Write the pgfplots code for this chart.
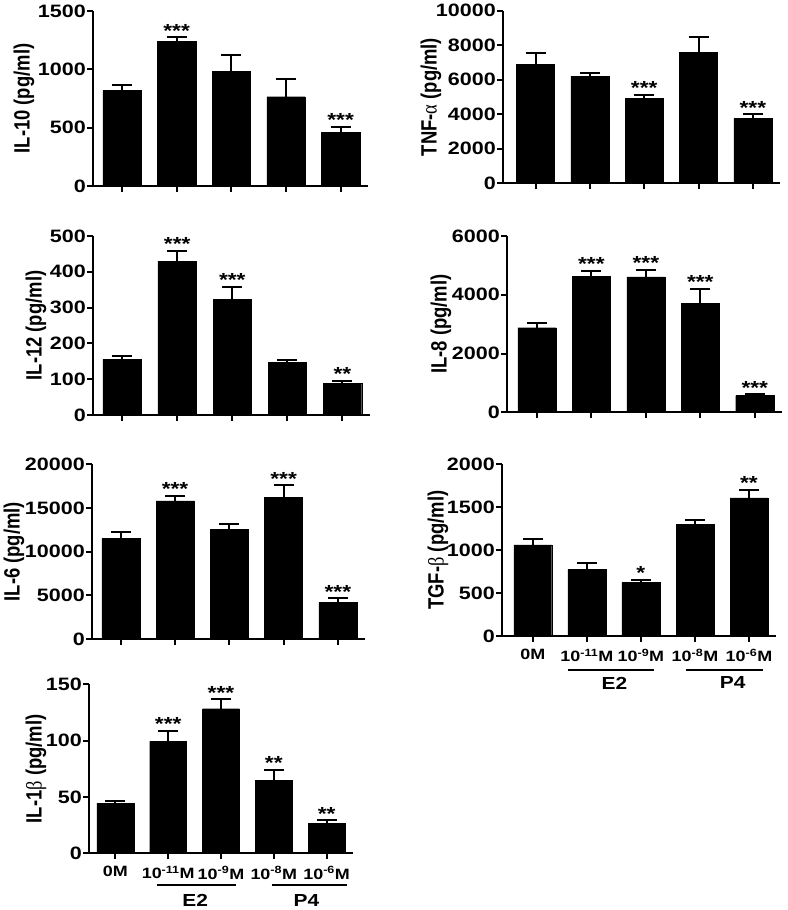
\documentclass[border=0pt]{standalone}
\usepackage{fontspec}
\setmainfont{Liberation Sans}
\newfontfamily\wide[FakeStretch=1.2]{Liberation Sans}
\newfontfamily\greek{Liberation Serif}
\usepackage{pgfplots}
\pgfplotsset{compat=1.18}
\newcommand\tickfont{\wide\bfseries\fontsize{18}{18}\selectfont}
\newcommand\xtfont{\wide\bfseries\fontsize{15}{16}\selectfont}
\newcommand\grpfont{\wide\bfseries\fontsize{17.5}{18}\selectfont}
\newcommand\starfont{\wide\bfseries\fontsize{19}{19}\selectfont}
\newcommand\labfont{\bfseries\fontsize{18.5}{19}\selectfont}
\pgfplotsset{
  panel/.style={
    scale only axis, anchor=south west,
    axis x line*=bottom, axis y line*=left,
    axis line style={line width=2bp, black},
    xmin=-0.53, xmax=4.5, ymin=0,
    xtick={0,1,2,3,4}, xticklabels={},
    tick align=outside, major tick length=6bp,
    tick style={line width=2bp, black},
    yticklabel style={font=\tickfont, inner sep=1bp},
    xticklabel style={font=\xtfont, inner sep=1bp, yshift=-6bp},
    /pgf/number format/assume math mode=true,
    /pgf/number format/1000 sep={},
    scaled y ticks=false,
    ylabel style={font=\labfont, anchor=center, yscale=1.2},
    clip=false,
  },
  ylx/.style={ylabel style={at={([xshift=-#1bp]axis description cs:0,0.5)}}},
  bars/.style={ybar, bar width=0.7, fill=black, draw=black,
    error bars/.cd, y dir=plus, y explicit,
    error bar style={line width=2bp, black},
    error mark options={rotate=90, line width=2bp, mark size=10bp, black}},
  stars/.style={draw=none, mark=none, nodes near coords, point meta=explicit symbolic,
    every node near coord/.append style={font=\starfont, anchor=south, inner sep=0pt}},
}
\begin{document}
\begin{tikzpicture}
\useasboundingbox (0,0) rectangle (788bp,910bp);
% IL-10
\begin{axis}[panel, ylx=69, at={(93bp,724bp)}, width=275bp, height=175bp,
  ymax=1500, ytick={0,500,1000,1500}, ylabel={IL-10 (pg/ml)}]
\addplot[bars] table[x=x,y=y,y error=e] {
x y e
0 817 48
1 1237 38
2 980 143
3 765 152
4 457 49
};
\addplot[stars] coordinates {(1,1275)[***] (4,506)[***]};
\end{axis}
% TNF-alpha
\begin{axis}[panel, ylx=72, at={(503bp,726.7bp)}, width=277bp, height=172.6bp, xmin=-0.6,
  ymax=10000, ytick={0,2000,4000,6000,8000,10000}, ylabel={TNF-{\greek\mdseries α} (pg/ml)}]
\addplot[bars] table[x=x,y=y,y error=e] {
x y e
0 6894 673
1 6199 191
2 4902 214
3 7590 869
4 3743 255
};
\addplot[stars] coordinates {(2,5116)[***] (4,3998)[***]};
\end{axis}
% IL-12
\begin{axis}[panel, ylx=57, at={(93bp,495bp)}, width=277bp, height=179bp,
  ymax=500, ytick={0,100,200,300,400,500}, ylabel={IL-12 (pg/ml)}]
\addplot[bars] table[x=x,y=y,y error=e] {
x y e
0 155.6 9
1 430 28
2 324 34
3 148 5.6
4 87.5 7.5
};
\addplot[stars] coordinates {(1,458)[***] (2,358)[***] (4,95)[**]};
\end{axis}
% IL-8
\begin{axis}[panel, ylx=66, at={(507bp,497.7bp)}, width=275bp, height=176.3bp, xmin=-0.55,
  ymax=6000, ytick={0,2000,4000,6000}, ylabel={IL-8 (pg/ml)}]
\addplot[bars] table[x=x,y=y,y error=e] {
x y e
0 2879 150
1 4628 191
2 4605 248
3 3696 510
4 565 48
};
\addplot[stars] coordinates {(1,4819)[***] (2,4853)[***] (3,4206)[***] (4,613)[***]};
\end{axis}
% IL-6
\begin{axis}[panel, ylx=78, at={(92bp,271bp)}, width=273bp, height=174.7bp,
  ymax=20000, ytick={0,5000,10000,15000,20000}, ylabel={IL-6 (pg/ml)}]
\addplot[bars] table[x=x,y=y,y error=e] {
x y e
0 11528 687
1 15799 607
2 12558 573
3 16222 1374
4 4156 504
};
\addplot[stars] coordinates {(1,16406)[***] (3,17596)[***] (4,4660)[***]};
\end{axis}
% TGF-beta
\begin{axis}[panel, ylx=64, at={(502bp,274bp)}, width=274bp, height=171.7bp, xmin=-0.57,
  ymax=2000, ytick={0,500,1000,1500,2000}, ylabel={TGF-{\greek\mdseries β} (pg/ml)},
  xticklabels={0M,10\textsuperscript{-11}M,10\textsuperscript{-9}M,10\textsuperscript{-8}M,10\textsuperscript{-6}M}]
\addplot[bars] table[x=x,y=y,y error=e] {
x y e
0 1060 65
1 777 70
2 626 28
3 1304 42
4 1609 93
};
\addplot[stars] coordinates {(2,654)[*] (4,1702)[**]};
\draw[line width=2bp] ([yshift=-34bp]axis cs:0.65,0) -- ([yshift=-34bp]axis cs:2.24,0);
\draw[line width=2bp] ([yshift=-34bp]axis cs:2.84,0) -- ([yshift=-34bp]axis cs:4.25,0);
\node[font=\grpfont] at ([yshift=-47bp]axis cs:1.51,0) {E2};
\node[font=\grpfont] at ([yshift=-47bp]axis cs:3.70,0) {P4};
\end{axis}
% IL-1beta
\begin{axis}[panel, ylx=53, at={(89bp,56.7bp)}, width=264bp, height=169bp, xmin=-0.5,
  ymax=150, ytick={0,50,100,150}, ylabel={IL-1{\greek\mdseries β} (pg/ml)},
  xticklabels={0M,10\textsuperscript{-11}M,10\textsuperscript{-9}M,10\textsuperscript{-8}M,10\textsuperscript{-6}M}]
\addplot[bars] table[x=x,y=y,y error=e] {
x y e
0 44.6 1.5
1 99.4 9.2
2 128.3 8.4
3 65 8.9
4 26.6 2.7
};
\addplot[stars] coordinates {(1,108.6)[***] (2,136.7)[***] (3,73.9)[**] (4,29.3)[**]};
\draw[line width=2bp] ([yshift=-32bp]axis cs:0.78,0) -- ([yshift=-32bp]axis cs:2.28,0);
\draw[line width=2bp] ([yshift=-32bp]axis cs:2.96,0) -- ([yshift=-32bp]axis cs:4.38,0);
\node[font=\grpfont] at ([yshift=-47bp]axis cs:1.51,0) {E2};
\node[font=\grpfont] at ([yshift=-47bp]axis cs:3.62,0) {P4};
\end{axis}
\end{tikzpicture}
\end{document}
